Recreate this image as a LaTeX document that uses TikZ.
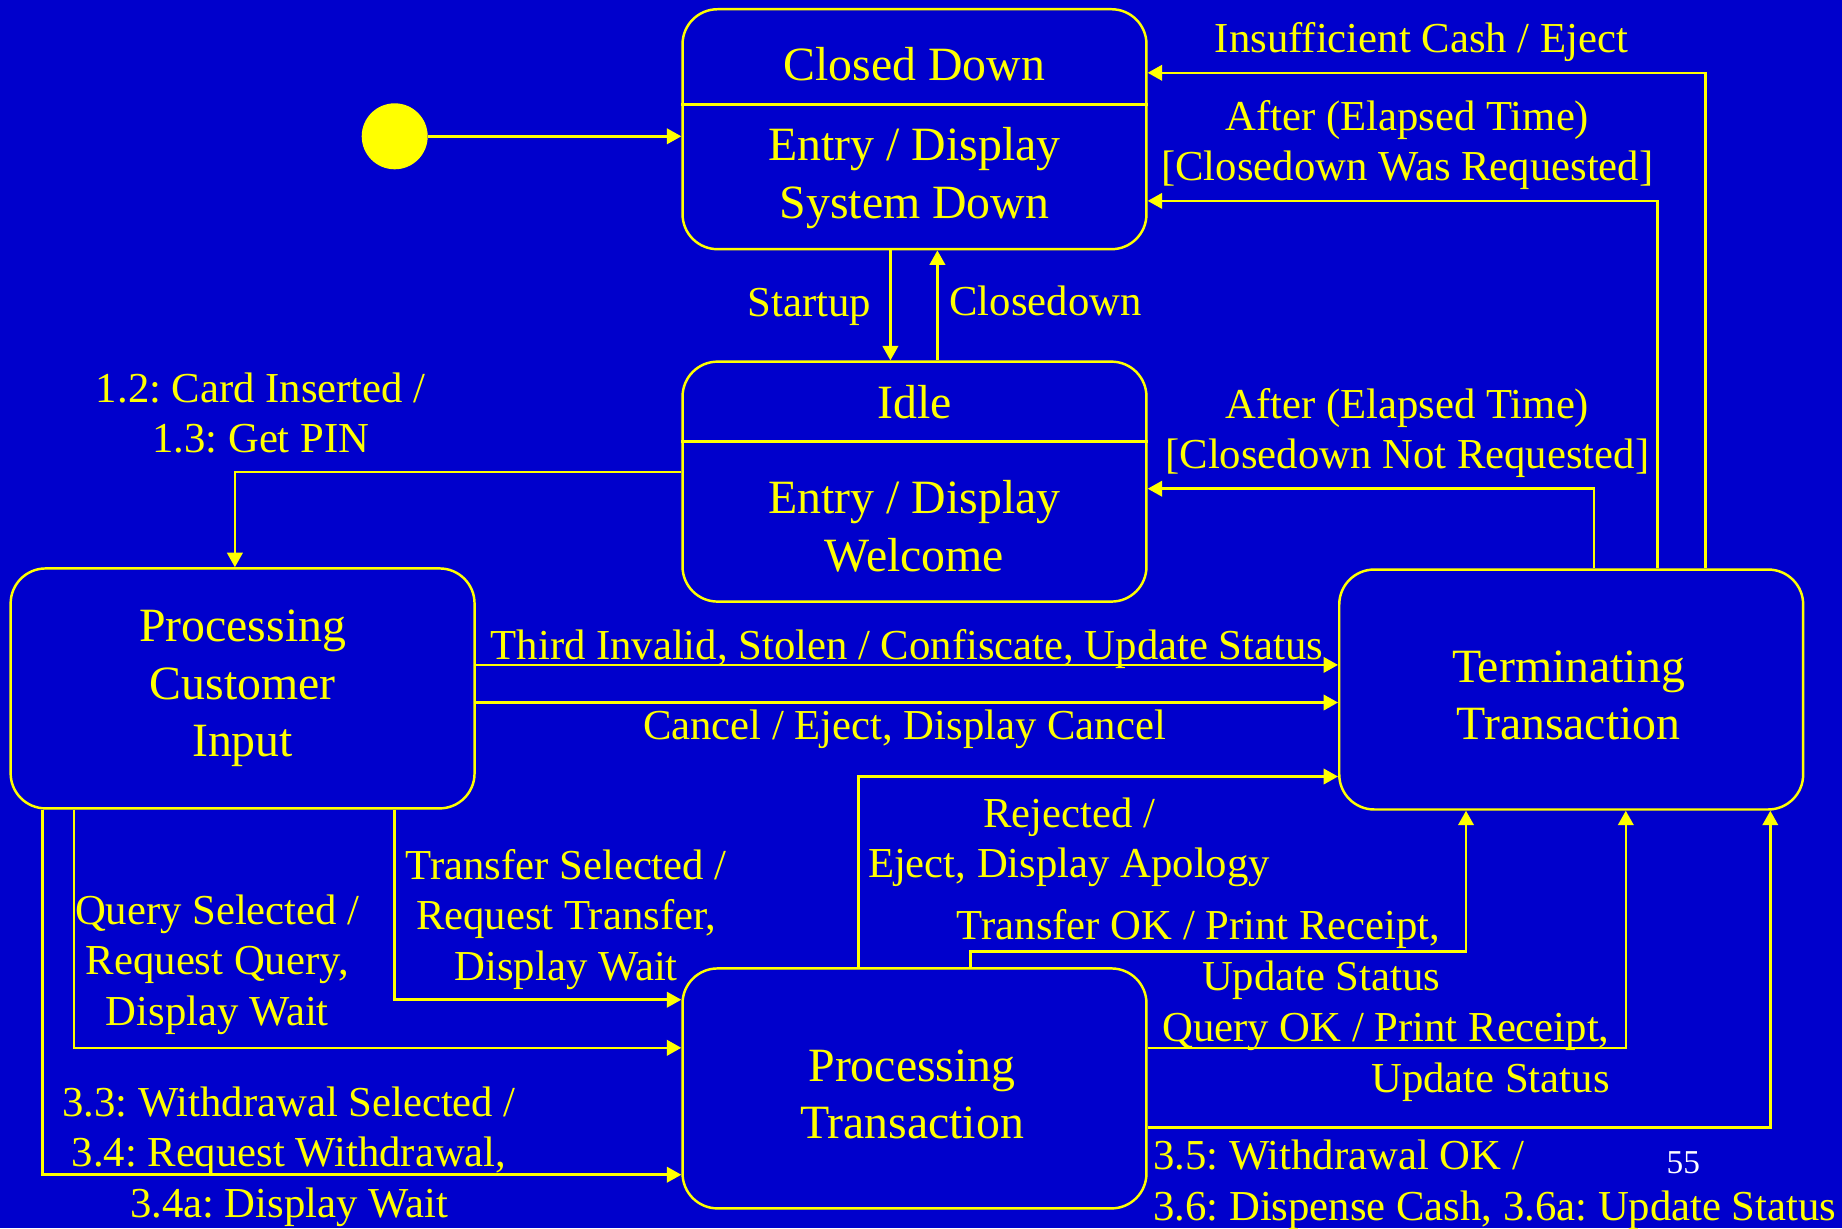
\documentclass[tikz,border=0pt]{standalone}
\usepackage{fontspec}
\setmainfont{Liberation Serif}
\usetikzlibrary{arrows.meta}
\definecolor{slideblue}{RGB}{0,0,204}
\definecolor{slideyellow}{RGB}{255,255,0}
\tikzstyle{state}=[rectangle, rounded corners=0.7cm, draw=slideyellow, line width=1.4pt, minimum width=9.28cm, minimum height=4.8cm, text=slideyellow, align=center, font=\fontsize{27.2}{32.6}\selectfont]
\tikzstyle{boxtext}=[text=slideyellow, align=center, font=\fontsize{27.2}{32.6}\selectfont]
\tikzstyle{trans}=[text=slideyellow, align=center, inner sep=1pt, font=\fontsize{24.3}{28.8}\selectfont]
\tikzstyle{flow}=[draw=slideyellow, line width=1.4pt, ->]
\tikzset{>={Triangle[length=0.29cm,width=0.31cm]}}
\frenchspacing

\begin{document}
\begin{tikzpicture}[x=0.02cm, y=-0.02cm]
        % Slide
        \path[use as bounding box, fill=slideblue] (0,0) rectangle (1842,1228);

        % States
        \node at (914.5, 129.2) [state] (closed) {};
        \node at (914.5, 64.6) [boxtext] (closed_title) {Closed Down};
        \node at (914.5, 178) [boxtext] (closed_body) {Entry / Display\\System Down};
        \draw [slideyellow, line width=1.4pt] (closed.west |- 0,104.5) -- (closed.east |- 0,104.5);

        \node at (914.5, 481.6) [state] (idle) {};
        \node at (914.5, 401.7) [boxtext] (idle_title) {Idle};
        \node at (914.5, 526.3) [boxtext] (idle_body) {Entry / Display\\Welcome};
        \draw [slideyellow, line width=1.4pt] (idle.west |- 0,441.7) -- (idle.east |- 0,441.7);

        \node at (242.6, 688.4) [state] (pci) {Processing\\Customer\\Input};
        \node at (1571.2, 689.5) [state] (tt) {};
        \node at (1568.5, 695.5) [boxtext] (tt_text) {Terminating\\Transaction};
        \node at (914.5, 1088.4) [state] (pt) {};
        \node at (912, 1094.5) [boxtext] (pt_text) {Processing\\Transaction};

        % Initial
        \node at (394.7, 136.3) [circle, fill=slideyellow, minimum size=1.32cm, inner sep=0pt] (init) {};
        \draw [flow] (init) -- (init -| closed.west);

        % Closed Down <-> Idle
        \draw [flow] (closed.south -| 890.4,0) -- (idle.north -| 890.4,0);
        \draw [flow] (idle.north -| 937.4,0) -- (closed.south -| 937.4,0);
        \node at (809.4, 306.6) [trans] (startup) {Startup};
        \node at (1045.5, 300.7) [trans] (closedown) {Closedown};

        % Idle -> Processing Customer Input
        \draw [flow] (idle.west |- 0,472.2) -| (pci.north -| 234.9,0);
        \node at (260.8, 413) [trans] (card) {1.2: Card Inserted /\\1.3: Get PIN};

        % Processing Customer Input -> Terminating Transaction
        \draw [flow] (pci.east |- 0,664.9) -- (tt.west |- 0,664.9);
        \draw [flow] (pci.east |- 0,702.5) -- (tt.west |- 0,702.5);
        \node at (906.9, 649.5) [trans] (invalid) {Third Invalid, Stolen / Confiscate, Update Status};
        \node at (904.5, 729.5) [trans] (cancel) {Cancel / Eject, Display Cancel};

        % Processing Customer Input -> Processing Transaction
        \foreach \x/\y in {74/1047.8, 394.7/999.7, 42.3/1174.7}
          \draw [flow] (pci.south -| \x,0) |- (pt.west |- 0,\y);
        \node at (217.3, 964.4) [trans] (query_sel) {Query Selected /\\Request Query,\\Display Wait};
        \node at (566.2, 919.2) [trans] (transfer_sel) {Transfer Selected /\\Request Transfer,\\Display Wait};
        \node at (289, 1156.4) [trans] (withdraw_sel) {3.3: Withdrawal Selected /\\3.4: Request Withdrawal,\\3.4a: Display Wait};

        % Processing Transaction -> Terminating Transaction
        \draw [flow] (pt.north -| 858.7,0) |- (tt.west |- 0,776.5);
        \draw [flow] (pt.north -| 970.3,0) |- (1466,951.5) -- (tt.south -| 1466,0);
        \draw [flow] (pt.east |- 0,1047.8) -| (tt.south -| 1625.8,0);
        \draw [flow] (pt.east |- 0,1127.7) -| (tt.south -| 1770.3,0);
        \node at (1069, 842.3) [trans] (rejected) {Rejected /\\Eject, Display Apology};
        \node at (1442.5, 954.5) [trans, anchor=east, align=right] (transfer_ok) {Transfer OK / Print Receipt,\\Update Status};
        \node at (1611.7, 1057.6) [trans, anchor=east, align=right] (query_ok) {Query OK / Print Receipt,\\Update Status};
        \node at (1151.2, 1184.7) [trans, anchor=west, align=left] (withdraw_ok) {3.5: Withdrawal OK /\\3.6: Dispense Cash, 3.6a: Update Status};

        % Terminating Transaction -> Closed Down, Idle
        \draw [flow] (tt.north -| 1705.7,0) |- (closed.east |- 0,72.8);
        \draw [flow] (tt.north -| 1657.5,0) |- (closed.east |- 0,200.9);
        \draw [flow] (tt.north -| 1594,0) |- (idle.east |- 0,488.7);
        \node at (1421.4, 42.3) [trans] (no_cash) {Insufficient Cash / Eject};
        \node at (1407.3, 145.1) [trans] (after_was) {After (Elapsed Time)\\{[Closedown Was Requested]}};
        \node at (1407.3, 432.9) [trans] (after_not) {After (Elapsed Time)\\{[Closedown Not Requested]}};

        % Page number
        \node at (1683.4, 1163) [white, font=\fontsize{19}{22}\selectfont] (page) {55};
\end{tikzpicture}
\end{document}
